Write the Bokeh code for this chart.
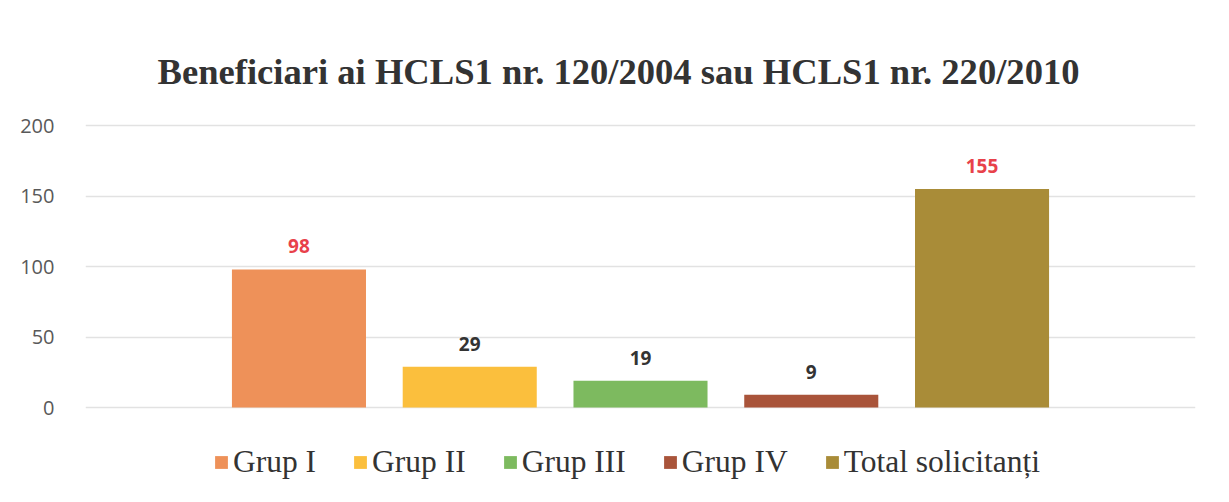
from bokeh.plotting import figure
from bokeh.models import (FactorRange, Range1d, Legend, LegendItem, ColumnDataSource,
                          FixedTicker, LabelSet)
from bokeh.core.properties import value
from bokeh.embed import file_html
from bokeh.resources import INLINE

categories = ["Grup I", "Grup II", "Grup III", "Grup IV", "Total solicitanți"]
values = [98, 29, 19, 9, 155]
colors = ["#EE9159", "#FBBF3D", "#7DBA5F", "#A9543A", "#A98C38"]
label_colors = ["#E8414A", "#333333", "#333333", "#333333", "#E8414A"]
y_ticks = [0, 50, 100, 150, 200]
title_text = "Beneficiari ai HCLS1 nr. 120/2004 sau HCLS1 nr. 220/2010"

src = ColumnDataSource(dict(cat=categories, val=values, col=colors,
                            lcol=label_colors, txt=[str(v) for v in values]))

# extra room below zero holds the legend inside the frame
p = figure(width=1213, height=486,
           x_range=FactorRange(*categories, range_padding=0.75, range_padding_units="absolute"),
           y_range=Range1d(-55.3, 201.5),
           output_backend="svg", toolbar_location=None,
           min_border_left=85, min_border_right=18,
           min_border_top=123, min_border_bottom=1)

p.title.text = title_text
p.title.align = "left"
p.title.offset = 72
p.title.text_font = "Liberation Serif"
p.title.text_font_size = "36.6px"
p.title.text_font_style = "bold"
p.title.text_color = "#333333"
p.title.standoff = 64

items = []
for i, c in enumerate(categories):
    r = p.vbar(x=[c], top=[values[i]], width=0.785, color=colors[i], line_color=None)
    items.append(LegendItem(label=c, renderers=[r]))

labels = LabelSet(x="cat", y="val", text="txt", source=src, y_offset=16,
                  text_align="center", text_baseline="bottom",
                  text_font=value("Open Sans"), text_font_size="19px",
                  text_font_style="bold", text_color="lcol")
p.add_layout(labels)

p.xaxis.visible = False
p.yaxis.ticker = FixedTicker(ticks=y_ticks)
p.yaxis.axis_line_color = None
p.yaxis.major_tick_line_color = None
p.yaxis.minor_tick_line_color = None
p.yaxis.major_label_standoff = 25
p.yaxis.major_label_text_font = "Open Sans"
p.yaxis.major_label_text_font_size = "20px"
p.yaxis.major_label_text_color = "#595959"

p.xgrid.grid_line_color = None
p.ygrid.grid_line_color = "#e2e2e2"
p.ygrid.grid_line_width = 1.5
p.outline_line_color = None

legend = Legend(items=items, orientation="horizontal", location=(128, 5),
                label_text_font="Liberation Serif", label_text_font_size="31.5px",
                label_text_color="#333333", glyph_width=16, glyph_height=16,
                label_standoff=4, spacing=36, border_line_color=None,
                background_fill_alpha=0, margin=0, padding=0)
p.add_layout(legend)

open("out.html", "w").write(file_html(p, INLINE))
